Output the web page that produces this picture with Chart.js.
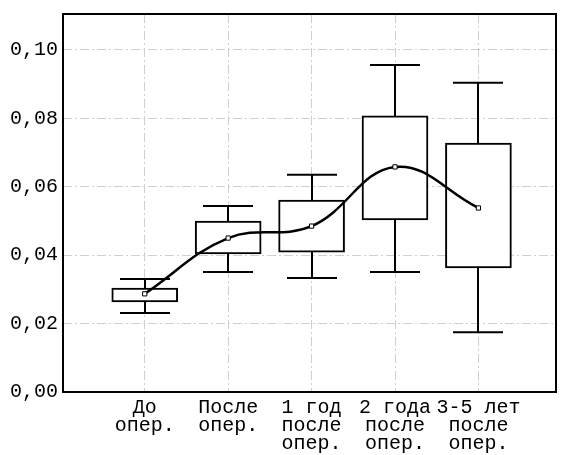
<!DOCTYPE html>
<html>
<head>
<meta charset="utf-8">
<script src="https://cdn.jsdelivr.net/npm/chart.js@4"></script>
<style>
  html, body { margin: 0; padding: 0; background: #fff; }
  #wrap { width: 561px; height: 455px; }
</style>
</head>
<body>
<div id="wrap"><canvas id="chart" width="561" height="455"></canvas></div>
<script>
// ── Data ──────────────────────────────────────────────────────────────────────
const categories = [
    ["До", "опер."],
    ["После", "опер."],
    ["1 год", "после", "опер."],
    ["2 года", "после", "опер."],
    ["3-5 лет", "после", "опер."],
];
const whiskerLow  = [0.0231, 0.0351, 0.0333, 0.0351, 0.0175];
const boxLow      = [0.0263, 0.0404, 0.0409, 0.0503, 0.0363];
const boxHigh     = [0.0304, 0.0500, 0.0561, 0.0807, 0.0728];
const whiskerHigh = [0.0330, 0.0544, 0.0635, 0.0956, 0.0904];
const means       = [0.0287, 0.0450, 0.0485, 0.0658, 0.0538];
const yTicks      = [0, 0.02, 0.04, 0.06, 0.08, 0.10];

const FONT = { family: "'Liberation Mono', 'DejaVu Sans Mono', monospace", size: 20, lineHeight: 0.9 };
const GRID = "#cfcfcf";

// ── Whiskers + frame plugin ───────────────────────────────────────────────────
const whiskerPlugin = {
    id: "whiskers",
    beforeDatasetsDraw(chart) {
        const { ctx, scales: { x, y } } = chart;
        const capHalf = 25;
        ctx.save();
        ctx.strokeStyle = "#000";
        ctx.lineWidth = 2;
        ctx.setLineDash([]);
        whiskerHigh.forEach((hi, i) => {
            const px = Math.round(x.getPixelForValue(i));
            const segs = [[boxHigh[i], hi], [boxLow[i], whiskerLow[i]]];
            for (const [from, to] of segs) {
                const y1 = y.getPixelForValue(from);
                const y2 = y.getPixelForValue(to);
                ctx.beginPath();
                ctx.moveTo(px, y1);
                ctx.lineTo(px, y2);
                ctx.moveTo(px - capHalf, y2);
                ctx.lineTo(px + capHalf, y2);
                ctx.stroke();
            }
        });
        ctx.restore();
    },
    afterDraw(chart) {
        const { ctx, chartArea: a } = chart;
        ctx.save();
        ctx.strokeStyle = "#000";
        ctx.lineWidth = 2;
        ctx.strokeRect(a.left, a.top, a.right - a.left, a.bottom - a.top);
        ctx.restore();
    }
};

// ── Chart ─────────────────────────────────────────────────────────────────────
new Chart(document.getElementById("chart"), {
    data: {
        datasets: [
            {
                type: "line",
                order: 0,
                data: means.map((v, i) => ({ x: i, y: v })),
                borderColor: "#000",
                borderWidth: 2.5,
                tension: 0.4,
                pointStyle: "rect",
                pointRadius: 3,
                pointBackgroundColor: "#fff",
                pointBorderColor: "#000",
                pointBorderWidth: 1,
            },
            {
                type: "bar",
                order: 1,
                data: boxLow.map((lo, i) => ({ x: i, y: [lo, boxHigh[i]] })),
                backgroundColor: "#fff",
                borderColor: "#000",
                borderWidth: 2,
                borderSkipped: false,
                barThickness: 66,
            }
        ]
    },
    options: {
        responsive: false,
        animation: false,
        layout: { padding: { top: 14, right: 4, left: 0, bottom: 0 } },
        plugins: { legend: { display: false }, tooltip: { enabled: false } },
        scales: {
            x: {
                type: "linear",
                offset: false,
                min: -0.98,
                max: 4.93,
                afterBuildTicks: s => { s.ticks = categories.map((_, i) => ({ value: i })); },
                afterFit: s => { s.height = 63; },
                ticks: {
                    color: "#000",
                    font: FONT,
                    padding: 7,
                    maxRotation: 0,
                    autoSkip: false,
                    callback: v => categories[v],
                },
                grid: { color: GRID, lineWidth: 1, drawTicks: false, offset: false },
                border: { display: false, dash: [9, 3, 2, 3] },
            },
            y: {
                min: 0,
                max: 0.1105,
                afterBuildTicks: s => { s.ticks = yTicks.map(v => ({ value: v })); },
                afterFit: s => { s.width = 63; },
                ticks: {
                    color: "#000",
                    font: FONT,
                    padding: 5,
                    callback: v => v.toFixed(2).replace(".", ","),
                },
                grid: { color: GRID, lineWidth: 1, drawTicks: false },
                border: { display: false, dash: [9, 3, 2, 3] },
            }
        }
    },
    plugins: [whiskerPlugin]
});
</script>
</body>
</html>
